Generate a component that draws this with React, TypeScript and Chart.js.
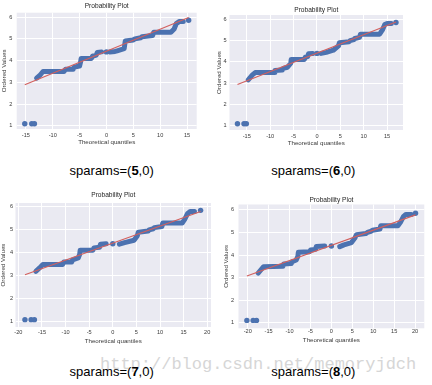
import React, { useEffect, useRef } from "react";
import { Chart, registerables } from "chart.js";
Chart.register(...registerables);

// ---------- Panel 1 : sparams=(5,0) ----------
const p1BandAX = [-13.0, -12.3, -11.8, -7.9, -7.6, -6.2, -6.0, -5.0, -4.8, -4.7, -2.8, -2.6, -1.9, -1.7, -0.9];
const p1BandAY = [3.2, 3.35, 3.5, 3.5, 3.6, 3.6, 3.7, 3.75, 3.95, 4.1, 4.1, 4.2, 4.25, 4.37, 4.4];
const p1BandBX = [0.6, 1.6, 2.0, 3.3, 3.5, 5.0, 5.3, 6.4, 6.6, 8.6, 8.8, 12.0, 12.6, 13.0, 13.6, 14.3];
const p1BandBY = [4.4, 4.42, 4.45, 4.55, 4.9, 4.95, 5.0, 5.05, 5.1, 5.15, 5.3, 5.3, 5.45, 5.7, 5.8, 5.8];
const p1DotX = [-15.2, -13.9, -13.4, 0.0, 15.3];
const p1DotY = [1.1, 1.1, 1.1, 4.4, 5.85];
const p1FitX = [-15.2, 15.3];
const p1FitY = [2.89, 5.98];

// ---------- Panel 2 : sparams=(6,0) ----------
const p2BandAX = [-14.7, -13.8, -13.2, -9.1, -9.0, -7.4, -7.2, -6.3, -5.6, -5.5, -2.7, -2.5, -2.0, -1.8, -0.9];
const p2BandAY = [3.16, 3.39, 3.5, 3.5, 3.6, 3.62, 3.7, 3.75, 3.94, 4.12, 4.12, 4.22, 4.25, 4.38, 4.4];
const p2BandBX = [0.9, 2.0, 3.5, 4.6, 4.8, 6.9, 7.1, 7.9, 8.1, 9.1, 9.3, 13.4, 14.0, 14.5, 15.0, 15.9];
const p2BandBY = [4.4, 4.45, 4.55, 4.75, 4.9, 4.95, 5.0, 5.05, 5.1, 5.15, 5.3, 5.3, 5.5, 5.75, 5.8, 5.8];
const p2DotX = [-17.0, -15.6, -15.1, 0.0, 16.9];
const p2DotY = [1.1, 1.1, 1.1, 4.4, 5.85];
const p2FitX = [-17.0, 16.9];
const p2FitY = [2.94, 5.87];

// ---------- Panel 3 : sparams=(7,0) ----------
const p3BandAX = [-16.3, -15.5, -14.8, -10.6, -10.4, -8.7, -8.5, -7.3, -7.0, -6.9, -4.2, -4.0, -2.8, -2.6, -1.4];
const p3BandAY = [3.2, 3.35, 3.5, 3.5, 3.6, 3.6, 3.7, 3.78, 3.95, 4.12, 4.12, 4.22, 4.25, 4.38, 4.4];
const p3BandBX = [1.4, 2.5, 4.5, 5.2, 5.4, 7.5, 7.7, 8.6, 8.8, 10.4, 10.6, 14.7, 15.2, 15.8, 16.4, 17.3];
const p3BandBY = [4.38, 4.45, 4.55, 4.75, 4.9, 4.95, 5.0, 5.05, 5.1, 5.15, 5.3, 5.3, 5.45, 5.7, 5.8, 5.8];
const p3DotX = [-18.6, -17.3, -16.6, 0.0, 18.6];
const p3DotY = [1.1, 1.1, 1.1, 4.4, 5.85];
const p3FitX = [-18.6, 18.6];
const p3FitY = [3.05, 5.8];

// ---------- Panel 4 : sparams=(8,0) ----------
const p4BandAX = [-17.5, -16.8, -16.2, -11.6, -11.4, -9.6, -9.4, -8.4, -8.0, -7.9, -5.2, -5.0, -3.8, -3.6, -1.6];
const p4BandAY = [3.2, 3.35, 3.48, 3.5, 3.6, 3.62, 3.7, 3.78, 3.95, 4.12, 4.15, 4.22, 4.25, 4.38, 4.4];
const p4BandBX = [2.0, 3.0, 4.8, 5.6, 6.0, 8.2, 8.6, 9.4, 9.8, 11.6, 11.8, 15.9, 16.5, 17.2, 17.8, 19.1];
const p4BandBY = [4.37, 4.45, 4.55, 4.75, 4.9, 4.95, 5.0, 5.05, 5.1, 5.15, 5.3, 5.3, 5.45, 5.7, 5.8, 5.8];
const p4DotX = [-20.2, -18.7, -17.9, 0.0, 20.1];
const p4DotY = [1.1, 1.1, 1.1, 4.4, 5.85];
const p4FitX = [-20.2, 20.1];
const p4FitY = [3.07, 5.78];

const captionNums = ["5", "6", "7", "8"];
const TITLE_TEXT = "Probability Plot";
const X_TITLE = "Theoretical quantiles";
const Y_TITLE = "Ordered Values";
const WATERMARK = "http://blog.csdn.net/memoryjdch";

const FONT = "'Liberation Sans', Arial, sans-serif";
const BLUE = "#4c72b0";
const RED = "#d2605e";
const BG = "#eaeaf2";
const TEXT = "#3a3a3a";
const TITLE_SIZE = 6.6;
const AXIS_SIZE = 6.2;
const TICK_SIZE = 5.6;

const pts = (xs: number[], ys: number[]) => xs.map((x, i) => ({ x, y: ys[i] }));

interface Spec {
  x: number; y: number; w: number; h: number;
  area: { l: number; r: number; t: number; b: number };
  titleY: number; yTitleX: number; xTitleY: number; xTickY: number; yTickRight: number;
  xMin: number; xMax: number; yMin: number; yMax: number;
  bandA: { x: number; y: number }[];
  bandB: { x: number; y: number }[];
  dots: { x: number; y: number }[];
  fit: { x: number; y: number }[];
}

const specs: Spec[] = [
  {
    x: 0, y: 0, w: 216, h: 150,
    area: { l: 16.7, r: 196.7, t: 12.7, b: 129 },
    titleY: 6, yTitleX: 4, xTitleY: 142.7, xTickY: 135, yTickRight: 12.3,
    xMin: -16.7, xMax: 16.8, yMin: 0.86, yMax: 6.2,
    bandA: pts(p1BandAX, p1BandAY), bandB: pts(p1BandBX, p1BandBY),
    dots: pts(p1DotX, p1DotY), fit: pts(p1FitX, p1FitY),
  },
  {
    x: 216, y: 0, w: 216, h: 150,
    area: { l: 13.5, r: 187, t: 15, b: 130 },
    titleY: 10.5, yTitleX: 3, xTitleY: 143.3, xTickY: 136.5, yTickRight: 10.5,
    xMin: -18.7, xMax: 18.4, yMin: 0.81, yMax: 6.2,
    bandA: pts(p2BandAX, p2BandAY), bandB: pts(p2BandBX, p2BandBY),
    dots: pts(p2DotX, p2DotY), fit: pts(p2FitX, p2FitY),
  },
  {
    x: 0, y: 188, w: 216, h: 158,
    area: { l: 15.5, r: 211, t: 15, b: 139 },
    titleY: 7, yTitleX: 3.5, xTitleY: 153, xTickY: 144, yTickRight: 13,
    xMin: -20.6, xMax: 20.8, yMin: 0.78, yMax: 6.17,
    bandA: pts(p3BandAX, p3BandAY), bandB: pts(p3BandBX, p3BandBY),
    dots: pts(p3DotX, p3DotY), fit: pts(p3FitX, p3FitY),
  },
  {
    x: 216, y: 188, w: 216, h: 158,
    area: { l: 22.5, r: 208.3, t: 16.5, b: 140.3 },
    titleY: 12, yTitleX: 10, xTitleY: 152.7, xTickY: 143.7, yTickRight: 18.2,
    xMin: -22.2, xMax: 22.2, yMin: 0.75, yMax: 6.24,
    bandA: pts(p4BandAX, p4BandAY), bandB: pts(p4BandBX, p4BandBY),
    dots: pts(p4DotX, p4DotY), fit: pts(p4FitX, p4FitY),
  },
];

const bgPlugin = {
  id: "axesBg",
  beforeDraw(chart: any) {
    const { ctx, chartArea: a } = chart;
    ctx.save();
    ctx.fillStyle = BG;
    ctx.fillRect(a.left, a.top, a.right - a.left, a.bottom - a.top);
    ctx.restore();
  },
};

function Panel({ s }: { s: Spec }) {
  const ref = useRef<HTMLCanvasElement>(null);
  useEffect(() => {
    const c = ref.current!;
    const titleLH = TITLE_SIZE * 1.2;
    const tPadTop = s.titleY - titleLH / 2;
    const tPadBottom = s.area.t - tPadTop - titleLH;
    const tickLH = TICK_SIZE * 1.2;
    const bandStyle = {
      type: "line" as const,
      borderColor: BLUE,
      borderWidth: 5,
      pointRadius: 0,
      borderCapStyle: "round" as const,
      borderJoinStyle: "round" as const,
      tension: 0,
      order: 2,
    };
    const chart = new Chart(c, {
      type: "scatter",
      data: {
        datasets: [
          { type: "line", data: s.fit, borderColor: RED, borderWidth: 1.2, pointRadius: 0, order: 0 } as any,
          { ...bandStyle, data: s.bandA } as any,
          { ...bandStyle, data: s.bandB } as any,
          { type: "scatter", data: s.dots, backgroundColor: BLUE, borderWidth: 0, pointRadius: 2.7, order: 1 } as any,
        ],
      },
      options: {
        responsive: false,
        animation: false,
        devicePixelRatio: 1,
        layout: { padding: { left: 0, top: 0, right: s.w - s.area.r, bottom: 0 } },
        plugins: {
          legend: { display: false },
          tooltip: { enabled: false },
          title: {
            display: true,
            text: TITLE_TEXT,
            fullSize: false,
            color: "#262626",
            font: { family: FONT, size: TITLE_SIZE, weight: "normal", lineHeight: 1.2 },
            padding: { top: tPadTop, bottom: tPadBottom },
          },
        },
        scales: {
          x: {
            type: "linear",
            min: s.xMin,
            max: s.xMax,
            afterFit: (sc: any) => { sc.height = s.h - s.area.b; },
            ticks: {
              stepSize: 5,
              includeBounds: false,
              autoSkip: false,
              maxRotation: 0,
              padding: s.xTickY - s.area.b - tickLH / 2,
              color: TEXT,
              font: { family: FONT, size: TICK_SIZE, lineHeight: 1.2 },
            },
            grid: { color: "#ffffff", lineWidth: 1, drawTicks: false },
            border: { display: false },
            title: {
              display: true,
              text: X_TITLE,
              color: TEXT,
              font: { family: FONT, size: AXIS_SIZE, lineHeight: 1 },
              padding: { top: 0, bottom: s.h - s.xTitleY - AXIS_SIZE / 2 },
            },
          },
          y: {
            type: "linear",
            min: s.yMin,
            max: s.yMax,
            afterFit: (sc: any) => { sc.width = s.area.l; },
            ticks: {
              stepSize: 1,
              includeBounds: false,
              autoSkip: false,
              padding: s.area.l - s.yTickRight,
              color: TEXT,
              font: { family: FONT, size: TICK_SIZE, lineHeight: 1.2 },
            },
            grid: { color: "#ffffff", lineWidth: 1, drawTicks: false },
            border: { display: false },
            title: {
              display: true,
              text: Y_TITLE,
              color: TEXT,
              font: { family: FONT, size: AXIS_SIZE, lineHeight: 1 },
              padding: { top: s.yTitleX - AXIS_SIZE / 2, bottom: 0 },
            },
          },
        },
      } as any,
      plugins: [bgPlugin],
    });
    return () => chart.destroy();
  }, [s]);
  return (
    <canvas
      ref={ref}
      width={s.w}
      height={s.h}
      style={{ position: "absolute", left: s.x, top: s.y, width: s.w, height: s.h, display: "block" }}
    />
  );
}

const captionPos = [
  { cx: 111.7, top: 164 },
  { cx: 313.3, top: 164 },
  { cx: 111.7, top: 364.5 },
  { cx: 313.3, top: 364.5 },
];

export default function App() {
  return (
    <div style={{ position: "absolute", left: 0, top: 0, width: 432, height: 385, background: "#ffffff", overflow: "hidden" }}>
      {specs.map((s, i) => (
        <Panel key={i} s={s} />
      ))}
      <div
        style={{
          position: "absolute",
          left: 100,
          top: 356,
          fontFamily: "'Liberation Mono', 'DejaVu Sans Mono', monospace",
          fontSize: 17,
          lineHeight: "17px",
          color: "#d6d6d6",
          whiteSpace: "nowrap",
        }}
      >
        {WATERMARK}
      </div>
      {captionPos.map((p, i) => (
        <div
          key={i}
          style={{
            position: "absolute",
            left: p.cx,
            top: p.top,
            transform: "translateX(-50%)",
            fontFamily: FONT,
            fontSize: 13,
            lineHeight: "13px",
            color: "#000",
            whiteSpace: "nowrap",
          }}
        >
          sparams=(<b>{captionNums[i]}</b>,0)
        </div>
      ))}
    </div>
  );
}
